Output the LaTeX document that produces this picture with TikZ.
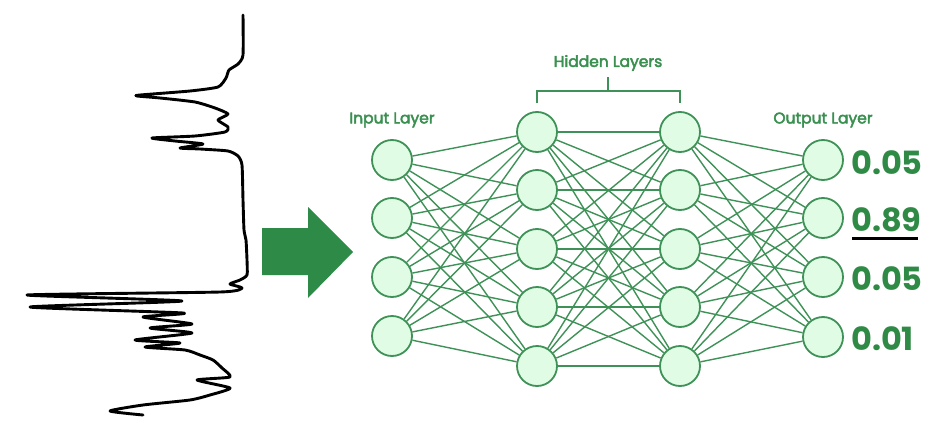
\documentclass[tikz,border=0pt]{standalone}
\usepackage{fontspec}
\setmainfont{Poppins}
\newfontfamily\labelfont{Poppins}[FakeBold=3]
\definecolor{ngreen}{HTML}{3E9157}
\definecolor{nfill}{HTML}{E1FCE5}
\definecolor{agreen}{HTML}{2E8B47}
\definecolor{tgreen}{HTML}{3A9050}
\definecolor{vgreen}{HTML}{2F8A46}
\begin{document}
\begin{tikzpicture}[x=1pt,y=-1pt,
  neuron/.style={circle,draw=ngreen,fill=nfill,line width=1.8pt,minimum size=40pt,inner sep=0pt},
  conn/.style={draw=ngreen,line width=1.4pt},
  lbl/.style={text=tgreen,font=\labelfont\fontsize{15.5}{18}\selectfont},
  val/.style={text=vgreen,font=\fontsize{32}{35}\selectfont\bfseries,anchor=west,inner sep=0pt}]
\useasboundingbox (0,0) rectangle (942,444);
% spectrum
\draw[line width=2.9pt,line join=round,line cap=round] plot[smooth,tension=0.35] coordinates {
(243,15)(243,55)(238,64)(229,70)(226,78)(218,87)(190,91)(140,95)(137,96)(160,98)(195,102)(215,108)(228,114)(218,120)(228,127)(225,132)(195,136)(152,138)(175,141)(203,144)(180,148)(200,149)(228,151)(238,156)(242,165)(243,200)(244,230)(246,240)(247,260)(247,275)(240,280)(230,284)(242,288)(220,292)(27,295)(182,301)(30,307)(183,313)(143,317)(192,324)(150,328)(192,333)(135,340)(180,343)(145,347)(185,350)(200,355)(213,360)(222,368)(230,377)(197,380)(230,388)(210,395)(190,400)(143,405)(110,411)(143,415)};
% arrow
\fill[agreen] (262,228) -- (308,228) -- (308,207) -- (353,252) -- (308,298) -- (308,275) -- (262,275) -- cycle;
% nodes
\foreach \i/\y in {1/160,2/218,3/277,4/336} \node[neuron] (i\i) at (392,\y) {};
\foreach \i/\y in {1/132,2/190,3/249,4/307,5/366} {
  \node[neuron] (a\i) at (537,\y) {};
  \node[neuron] (b\i) at (680,\y) {};
}
\foreach \i/\y in {1/160,2/218,3/277,4/337} \node[neuron] (o\i) at (823,\y) {};
% connections
\foreach \i in {1,...,4} \foreach \j in {1,...,5} \draw[conn] (i\i) -- (a\j);
\foreach \i in {1,...,5} \foreach \j in {1,...,5} \draw[conn] (a\i) -- (b\j);
\foreach \i in {1,...,5} \foreach \j in {1,...,4} \draw[conn] (b\i) -- (o\j);
% labels
\node[lbl] (lin) at (392,120) {Input Layer};
\node[lbl] (lhid) at (608,63) {Hidden Layers};
\node[lbl] (lout) at (823,120) {Output Layer};
\coordinate (bl) at (537,103);
\coordinate (br) at (680,103);
\coordinate (bm) at (608,77);
\draw[ngreen,line width=1.6pt] (bl) -- (537,91) -- (680,91) -- (br);
\draw[ngreen,line width=1.6pt] (608,91) -- (bm);
% values
\node[val] (v1) at (851,163) {0.05};
\node[val] (v2) at (851,220) {0.89};
\node[val] (v3) at (851,279) {0.05};
\node[val] (v4) at (851,339) {0.01};
\draw[line width=3pt] (852,238) -- (918,238);
\end{tikzpicture}
\end{document}
